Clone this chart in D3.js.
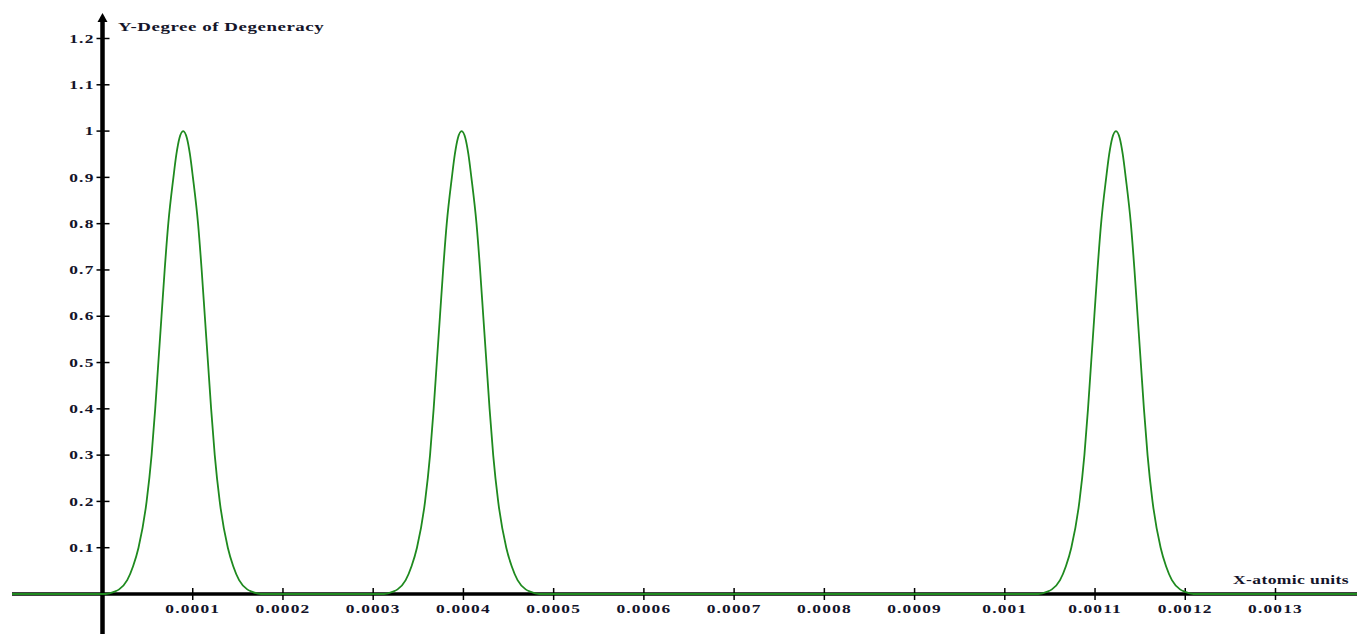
<!DOCTYPE html>
<html>
<head>
<meta charset="utf-8">
<script src="https://cdn.jsdelivr.net/npm/d3@7"></script>
<style>
  body { margin: 0; background: #fff; }
  text { font-family: "Liberation Serif", "Times New Roman", serif; font-weight: bold; fill: #14142a; }
</style>
</head>
<body>
<div id="chart"></div>
<script>
// peak positions (x, atomic units)
var peakCenters = [0.0000894, 0.000398, 0.0011232];
var peakHeight = 1;
// shape of each peak: height level and half width at that level
var profileLevels = [0, 0.005, 0.01, 0.03, 0.06, 0.1, 0.2, 0.3, 0.4, 0.5, 0.6, 0.7, 0.8, 0.9, 0.95, 0.985];
var profileHalfWidths = [8.6e-5, 7.6e-5, 7.1e-5, 6.2e-5, 5.55e-5, 4.95e-5, 4.05e-5, 3.5e-5, 3.1e-5, 2.75e-5, 2.4e-5, 2.05e-5, 1.65e-5, 1.08e-5, 0.75e-5, 0.41e-5];

var xTicks = [0.0001, 0.0002, 0.0003, 0.0004, 0.0005, 0.0006, 0.0007, 0.0008, 0.0009, 0.001, 0.0011, 0.0012, 0.0013];
var xTickLabels = ["0.0001", "0.0002", "0.0003", "0.0004", "0.0005", "0.0006", "0.0007", "0.0008", "0.0009", "0.001", "0.0011", "0.0012", "0.0013"];
var yTicks = [0.1, 0.2, 0.3, 0.4, 0.5, 0.6, 0.7, 0.8, 0.9, 1, 1.1, 1.2];
var yTickLabels = ["0.1", "0.2", "0.3", "0.4", "0.5", "0.6", "0.7", "0.8", "0.9", "1", "1.1", "1.2"];

var width = 1357;
var height = 634;
var stretch = 1.45; // the labels in the picture are wide and flat

var svg = d3.select("#chart")
    .append("svg")
    .attr("width", width)
    .attr("height", height);

var x = d3.scaleLinear()
    .domain([0, 0.0013])
    .range([102.5, 1275.5]);

var y = d3.scaleLinear()
    .domain([0, 1.2])
    .range([594, 38.5]);

var xMin = x.invert(12);
var xMax = x.invert(width);

// build the curve points: flat baseline with the three peaks
var points = [[xMin, 0]];
peakCenters.forEach(function (c) {
    for (var i = 0; i < profileLevels.length; i++) {
        points.push([c - profileHalfWidths[i], profileLevels[i] * peakHeight]);
    }
    points.push([c, peakHeight]);
    for (var j = profileLevels.length - 1; j >= 0; j--) {
        points.push([c + profileHalfWidths[j], profileLevels[j] * peakHeight]);
    }
});
points.push([xMax, 0]);

// x axis line
svg.append("line")
    .attr("x1", x(xMin)).attr("x2", x(xMax))
    .attr("y1", y(0)).attr("y2", y(0))
    .attr("stroke", "#000")
    .attr("stroke-width", 3.5);

// y axis line with arrow
svg.append("line")
    .attr("x1", x(0)).attr("x2", x(0))
    .attr("y1", height).attr("y2", 20)
    .attr("stroke", "#000")
    .attr("stroke-width", 4.5);

svg.append("path")
    .attr("d", "M" + (x(0) - 5) + ",22 L" + x(0) + ",13 L" + (x(0) + 5) + ",22 Z")
    .attr("fill", "#000");

// x ticks
var xg = svg.append("g");
xg.selectAll("line")
    .data(xTicks)
    .join("line")
    .attr("x1", d => x(d)).attr("x2", d => x(d))
    .attr("y1", y(0) - 6).attr("y2", y(0) + 6)
    .attr("stroke", "#000")
    .attr("stroke-width", 1.5);

xg.selectAll("text")
    .data(xTicks)
    .join("text")
    .attr("transform", d => "translate(" + x(d) + "," + (y(0) + 19) + ") scale(" + stretch + ",1)")
    .attr("text-anchor", "middle")
    .style("font-size", "12px")
    .style("letter-spacing", "0.8px")
    .text((d, i) => xTickLabels[i]);

// y ticks
var yg = svg.append("g");
yg.selectAll("line")
    .data(yTicks)
    .join("line")
    .attr("x1", x(0) - 6).attr("x2", x(0) + 7)
    .attr("y1", d => y(d)).attr("y2", d => y(d))
    .attr("stroke", "#000")
    .attr("stroke-width", 1.5);

yg.selectAll("text")
    .data(yTicks)
    .join("text")
    .attr("transform", d => "translate(" + (x(0) - 8) + "," + y(d) + ") scale(" + stretch + ",1)")
    .attr("dy", "0.35em")
    .attr("text-anchor", "end")
    .style("font-size", "12px")
    .style("letter-spacing", "0.8px")
    .text((d, i) => yTickLabels[i]);

// axis titles
svg.append("text")
    .attr("transform", "translate(118,31) scale(1.4,1)")
    .style("font-size", "13.5px")
    .style("letter-spacing", "0.4px")
    .text("Y-Degree of Degeneracy");

svg.append("text")
    .attr("transform", "translate(1233,584) scale(1.3,1)")
    .style("font-size", "13.5px")
    .style("letter-spacing", "0.3px")
    .text("X-atomic units");

// the curve
var line = d3.line()
    .x(d => x(d[0]))
    .y(d => y(d[1]))
    .curve(d3.curveMonotoneX);

svg.append("path")
    .datum(points)
    .attr("d", line)
    .attr("fill", "none")
    .attr("stroke", "#1f8a1f")
    .attr("stroke-width", 1.8);
</script>
</body>
</html>
